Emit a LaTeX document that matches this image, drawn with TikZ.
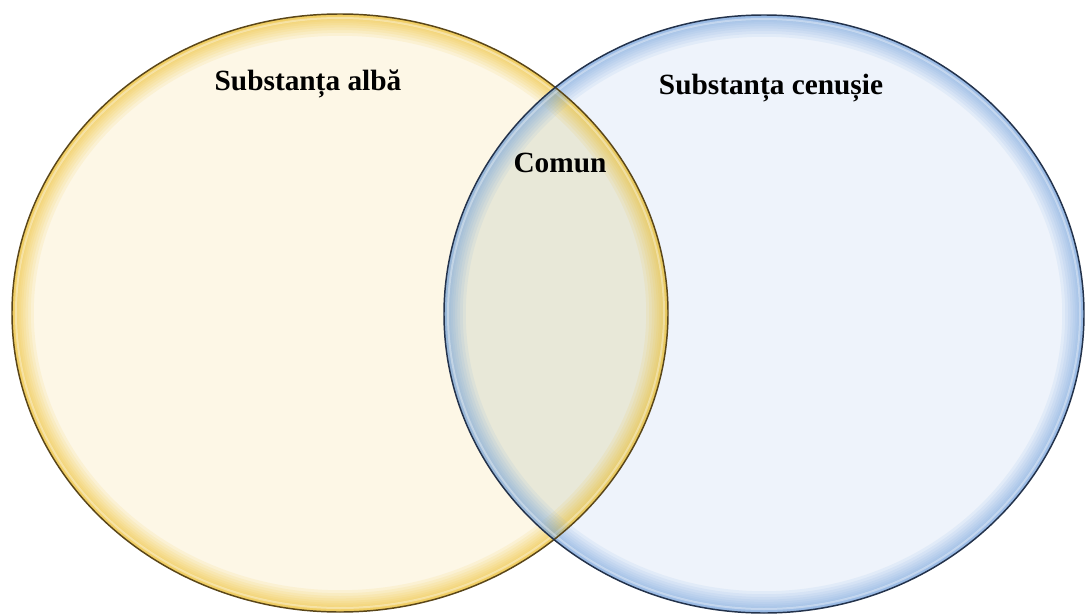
\documentclass[tikz,border=0pt]{standalone}
\usepackage{fontspec}
\setmainfont{Liberation Serif}
\usepackage{tikz}
\usetikzlibrary{positioning}
\definecolor{albfill}{RGB}{253,247,230}
\definecolor{albrim}{RGB}{240,192,45}
\definecolor{albline}{RGB}{90,70,25}
\definecolor{cenfill}{RGB}{238,243,251}
\definecolor{cenrim}{RGB}{120,165,222}
\definecolor{cenline}{RGB}{35,50,75}
\definecolor{comfill}{RGB}{232,232,216}

\begin{document}
\begin{tikzpicture}[x=0.75pt, y=-0.75pt,
    label/.style={font=\fontsize{22}{26}\selectfont\bfseries, text=black, inner sep=0pt},
    rim/.style={draw=#1, draw opacity=0.1},
    edge/.style={draw=#1, line width=1.1pt}
]
\useasboundingbox (0,0) rectangle (1086,614);
\coordinate (alba) at (340,313);
\coordinate (cenusie) at (764,314);
\def\albaset{(alba) ellipse [x radius=328, y radius=299]}
\def\censet{(cenusie) ellipse [x radius=320, y radius=299]}

% Fills
\fill[albfill] \albaset;
\fill[cenfill] \censet;
\begin{scope}
  \clip \albaset;
  \fill[comfill] \censet;
\end{scope}

% Inner glow, left set
\begin{scope}
  \clip \albaset;
  \foreach \w in {1,...,14}
    \draw[rim=albrim, line width=\w*\w/6 pt] \albaset;
  \draw[white, draw opacity=0.35, line width=1.5pt] (alba) ellipse [x radius=324, y radius=295];
\end{scope}

% Inner glow, right set
\begin{scope}
  \clip \censet;
  \foreach \w in {1,...,14}
    \draw[rim=cenrim, line width=\w*\w/6 pt] \censet;
  \draw[white, draw opacity=0.35, line width=1.5pt] (cenusie) ellipse [x radius=316, y radius=295];
\end{scope}

% Outlines
\draw[edge=albline] \albaset;
\draw[edge=cenline] \censet;

% Labels
\node[label] (lalba) at (308,84) {Substanța albă};
\node[label] (lcen) at (771,88) {Substanța cenușie};
\node[label] (lcom) at (560,163) {Comun};
\end{tikzpicture}
\end{document}
